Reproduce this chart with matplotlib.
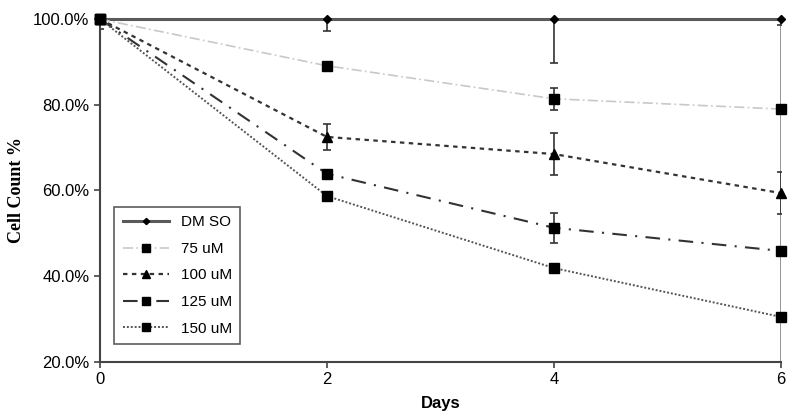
import matplotlib
matplotlib.use("Agg")
import matplotlib.pyplot as plt

days = [0, 2, 4, 6]

dmso = [100.0, 100.0, 100.0, 100.0]
dmso_err = [2.3, 2.8, 10.3, 1.4]
um75 = [100.0, 89.1, 81.4, 79.0]
um75_err = [0.0, 1.0, 2.6, 0.0]
um100 = [100.0, 72.5, 68.5, 59.4]
um100_err = [0.0, 3.0, 5.0, 5.0]
um125 = [100.0, 63.9, 51.3, 45.9]
um125_err = [0.0, 0.0, 3.5, 0.0]
um150 = [100.0, 58.7, 41.9, 30.5]
um150_err = [0.0, 0.0, 0.0, 0.0]

yticks = [20, 40, 60, 80, 100]

plt.rcParams["font.family"] = ["Liberation Sans", "DejaVu Sans"]

fig = plt.figure(figsize=(8, 4.15), dpi=100)
ax = fig.add_axes([0.125, 0.128, 0.851, 0.826])

# gray border line at day 6
ax.axvline(6, color="#8c8c8c", lw=1.3, zorder=1)

series = [
    ("DM SO", dmso, dmso_err, dict(color="#5a5a5a", ls="-", lw=2.2, marker="D", ms=4, mfc="black", mec="black")),
    ("75 uM", um75, um75_err, dict(color="#c8c8c8", ls=(0, (6, 2, 1, 2)), lw=1.2, marker="s", ms=6.5, mfc="black", mec="black")),
    ("100 uM", um100, um100_err, dict(color="#333333", ls=(0, (2, 2)), lw=1.6, marker="^", ms=6.5, mfc="black", mec="black")),
    ("125 uM", um125, um125_err, dict(color="#333333", ls=(0, (7, 4, 1, 4)), lw=1.5, marker="s", ms=6.5, mfc="black", mec="black")),
    ("150 uM", um150, um150_err, dict(color="#555555", ls=(0, (1, 1)), lw=1.4, marker="s", ms=6.5, mfc="black", mec="black")),
]

for label, vals, err, style in series:
    ax.plot(days, vals, label=label, zorder=3, clip_on=False, **style)
    ax.errorbar(days, vals, yerr=err, fmt="none", ecolor="#333333",
                elinewidth=1.2, capsize=3, capthick=1.2, zorder=2, clip_on=True)

ax.set_xlim(0, 6)
ax.set_ylim(20, 100)
ax.set_xticks(days)
ax.set_yticks(yticks)
ax.set_yticklabels([f"{t:.1f}%" for t in yticks])
ax.tick_params(labelsize=12, length=4, color="#444444", width=1.2)
for s in ["top", "right"]:
    ax.spines[s].set_visible(False)
for s in ["left", "bottom"]:
    ax.spines[s].set_color("#444444")
    ax.spines[s].set_linewidth(1.5)

ax.set_xlabel("Days", fontsize=12, fontweight="bold", labelpad=6)
ax.set_ylabel("Cell Count %", fontsize=13, fontweight="bold",
              family=["Liberation Serif", "DejaVu Serif"], labelpad=6)

leg = ax.legend(loc="lower left", bbox_to_anchor=(0.01, 0.03), fontsize=11,
                frameon=True, fancybox=False, edgecolor="#333333",
                handlelength=3, labelspacing=0.82, borderpad=0.55,
                markerscale=0.8)
leg.get_frame().set_linewidth(1.2)

fig.savefig("out.png", dpi=100)
